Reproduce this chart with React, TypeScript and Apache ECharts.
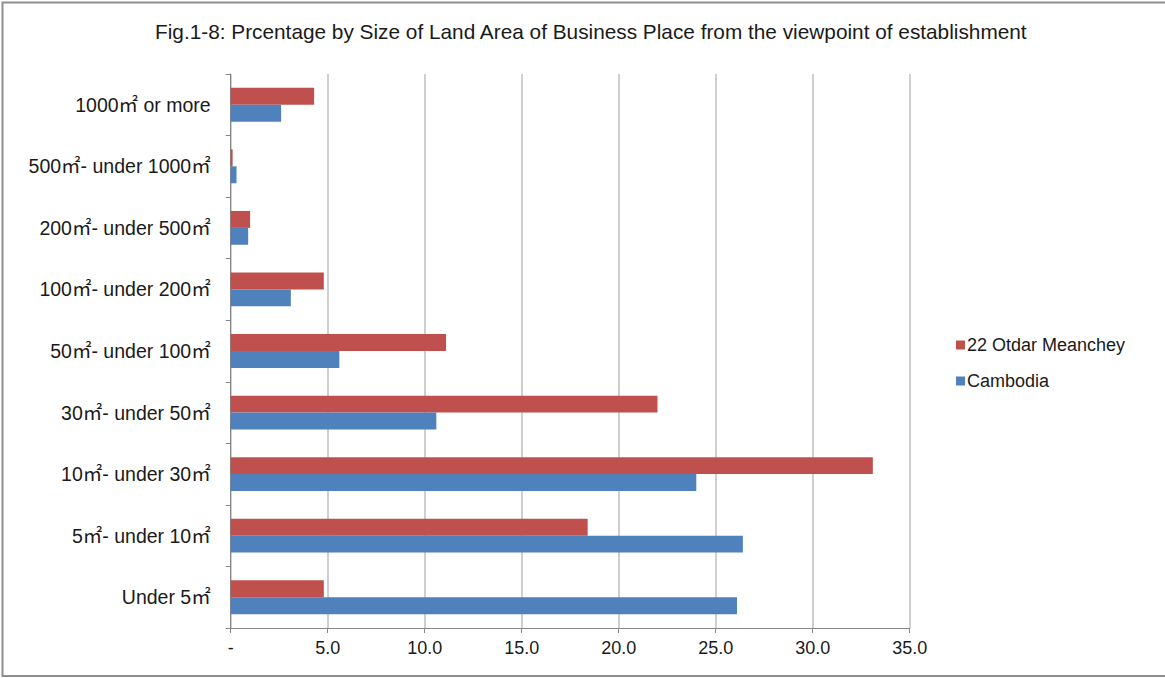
import React, { useEffect, useRef } from "react";
import * as echarts from "echarts";

const titleText =
  "Fig.1-8: Prcentage by Size of Land Area of Business Place from the viewpoint of establishment";
const categories = [
  "Under 5㎡",
  "5㎡- under 10㎡",
  "10㎡- under 30㎡",
  "30㎡- under 50㎡",
  "50㎡- under 100㎡",
  "100㎡- under 200㎡",
  "200㎡- under 500㎡",
  "500㎡- under 1000㎡",
  "1000㎡ or more",
];
const otdarName = "22 Otdar Meanchey";
const cambodiaName = "Cambodia";
const otdarValues = [4.8, 18.4, 33.1, 22.0, 11.1, 4.8, 1.0, 0.1, 4.3];
const cambodiaValues = [26.1, 26.4, 24.0, 10.6, 5.6, 3.1, 0.9, 0.3, 2.6];
const xMin = 0;
const xMax = 35;
const xStep = 5;

const FONT = "Arial, 'Liberation Sans', 'Noto Sans CJK JP', sans-serif";

export default function App() {
  const ref = useRef<HTMLDivElement>(null);
  useEffect(() => {
    if (!ref.current) return;
    const chart = echarts.init(ref.current, undefined, { renderer: "svg" });
    chart.setOption({
      animation: false,
      backgroundColor: "#ffffff",
      textStyle: { fontFamily: FONT },
      title: {
        text: titleText,
        left: 150,
        top: 16,
        textStyle: { fontFamily: FONT, fontSize: 20.8, fontWeight: "normal", color: "#1a1a1a" },
      },
      graphic: [
        {
          type: "rect",
          shape: { x: 2.5, y: 2.5, width: 1175, height: 673.5 },
          style: { fill: "none", stroke: "#8f8f8f", lineWidth: 2 },
          silent: true,
        },
      ],
      legend: {
        orient: "vertical",
        left: 951,
        top: 331,
        itemWidth: 9,
        itemHeight: 9,
        itemGap: 18,
        icon: "rect",
        data: [otdarName, cambodiaName],
        textStyle: { fontFamily: FONT, fontSize: 18, color: "#1a1a1a", padding: [0, 0, 0, -3] },
      },
      grid: { left: 230.7, right: 255.3, top: 74, bottom: 50, containLabel: false },
      xAxis: {
        type: "value",
        min: xMin,
        max: xMax,
        interval: xStep,
        axisLine: { show: true, lineStyle: { color: "#868686", width: 1 } },
        axisTick: { show: true, length: 5, lineStyle: { color: "#868686" } },
        splitLine: { show: true, lineStyle: { color: "#bfbfbf", width: 1.5 } },
        axisLabel: {
          fontFamily: FONT,
          fontSize: 18,
          color: "#1a1a1a",
          margin: 11,
          formatter: (v: number) => (v === 0 ? "-" : v.toFixed(1)),
        },
      },
      yAxis: {
        type: "category",
        data: categories,
        axisLine: { show: true, lineStyle: { color: "#868686", width: 1 } },
        axisTick: { show: true, length: 5, lineStyle: { color: "#868686" } },
        axisLabel: { fontFamily: FONT, fontSize: 19.5, color: "#1a1a1a", margin: 20 },
        splitLine: { show: false },
      },
      series: [
        {
          name: otdarName,
          type: "bar",
          data: otdarValues,
          barGap: "0%",
          barCategoryGap: "45%",
          itemStyle: { color: "#c0504d" },
        },
        {
          name: cambodiaName,
          type: "bar",
          data: cambodiaValues,
          barGap: "0%",
          barCategoryGap: "45%",
          itemStyle: { color: "#4f81bd" },
        },
      ],
    });
    return () => chart.dispose();
  }, []);
  return (
    <div
      ref={ref}
      style={{ position: "fixed", left: 0, top: 0, width: 1165, height: 678 }}
    />
  );
}
